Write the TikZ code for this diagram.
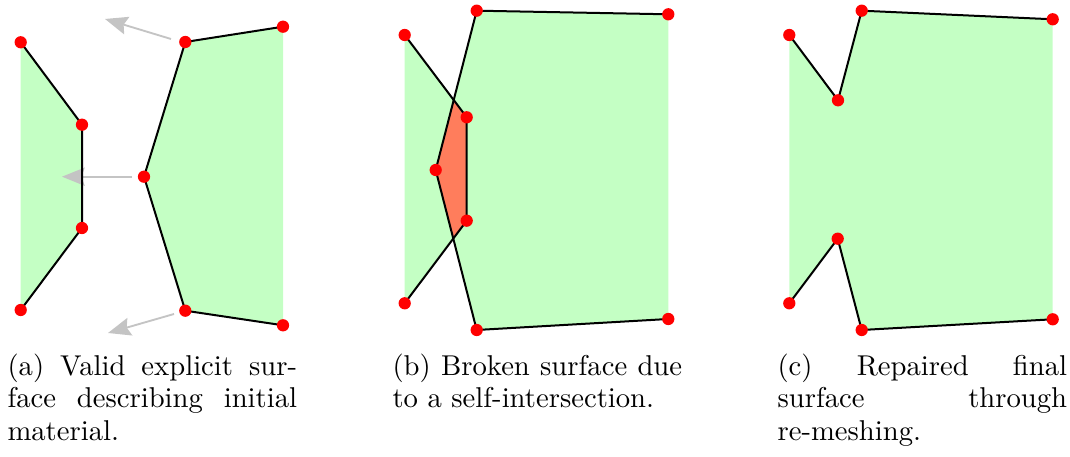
\documentclass[tikz,border=0pt]{standalone}
\usetikzlibrary{arrows.meta}
\definecolor{matgreen}{RGB}{196,255,196}
\definecolor{badred}{RGB}{255,125,92}
\definecolor{movegray}{RGB}{196,196,196}
\tikzset{
  surf/.style={draw=black, line width=0.75pt, line join=round},
  vert/.style={circle, fill=red, inner sep=0pt, minimum size=4.6pt},
  move/.style={draw=movegray, line width=0.7pt, -{Stealth[length=8.5pt, width=6.8pt, inset=1.2pt]}},
  capt/.style={anchor=north west, inner sep=0pt, text width=108.6pt, align=justify, font=\fontsize{10.75}{12.2}\selectfont}
}
\begin{document}
\begin{tikzpicture}[x=0.375pt, y=-0.375pt]
\useasboundingbox (0,0) rectangle (1070,457);
% ---------- panel (a)
\coordinate (a1) at (20.7,42.3);
\coordinate (a2) at (82,124.7);
\coordinate (a3) at (82,228);
\coordinate (a4) at (20.7,310);
\coordinate (a5) at (185.3,42);
\coordinate (a6) at (283,26.7);
\coordinate (a7) at (144,176.7);
\coordinate (a8) at (185.3,310.7);
\coordinate (a9) at (283,325.3);
\fill[matgreen] (a1) -- (a2) -- (a3) -- (a4) -- cycle;
\fill[matgreen] (a5) -- (a6) -- (a9) -- (a8) -- (a7) -- cycle;
\coordinate (m1s) at (171,39);
\coordinate (m1e) at (105,19);
\coordinate (m2s) at (132,176.7);
\coordinate (m2e) at (62,176.7);
\coordinate (m3s) at (174,314);
\coordinate (m3e) at (108,333);
\draw[move] (m1s) -- (m1e);
\draw[move] (m2s) -- (m2e);
\draw[move] (m3s) -- (m3e);
\draw[surf] (a1) -- (a2) -- (a3) -- (a4);
\draw[surf] (a6) -- (a5) -- (a7) -- (a8) -- (a9);
\foreach \p in {a1,a2,a3,a4,a5,a6,a7,a8,a9} \node[vert] (d\p) at (\p) {};
% ---------- panel (b)
\coordinate (b1) at (404.7,35);
\coordinate (b2) at (466.7,117.3);
\coordinate (b3) at (466.7,220.7);
\coordinate (b4) at (404.7,303.3);
\coordinate (b5) at (476.7,10.7);
\coordinate (b6) at (668.3,14.3);
\coordinate (b7) at (435.7,170);
\coordinate (b8) at (476.7,330);
\coordinate (b9) at (668.3,319);
\fill[matgreen] (b1) -- (b2) -- (b3) -- (b4) -- cycle;
\fill[matgreen] (b5) -- (b6) -- (b9) -- (b8) -- (b7) -- cycle;
\begin{scope}
  \clip (b1) -- (b2) -- (b3) -- (b4) -- cycle;
  \fill[badred] (b5) -- (b6) -- (b9) -- (b8) -- (b7) -- cycle;
\end{scope}
\draw[surf] (b1) -- (b2) -- (b3) -- (b4);
\draw[surf] (b6) -- (b5) -- (b7) -- (b8) -- (b9);
\foreach \p in {b1,b2,b3,b4,b5,b6,b7,b8,b9} \node[vert] (d\p) at (\p) {};
% ---------- panel (c)
\coordinate (c1) at (789.3,35);
\coordinate (c2) at (838,100.3);
\coordinate (c3) at (861.7,10.7);
\coordinate (c4) at (1052.7,19.3);
\coordinate (c5) at (1052.7,319.3);
\coordinate (c6) at (861.7,330);
\coordinate (c7) at (837.7,238.7);
\coordinate (c8) at (789.3,303.3);
\fill[matgreen] (c1) -- (c2) -- (c3) -- (c4) -- (c5) -- (c6) -- (c7) -- (c8) -- cycle;
\draw[surf] (c1) -- (c2) -- (c3) -- (c4);
\draw[surf] (c5) -- (c6) -- (c7) -- (c8);
\foreach \p in {c1,c2,c3,c4,c5,c6,c7,c8} \node[vert] (d\p) at (\p) {};
% ---------- captions
\node[capt] (capa) at (7,353) {(a) Valid explicit sur-\linebreak face describing initial\linebreak material.};
\node[capt] (capb) at (392,353) {(b) Broken surface due\linebreak to a self-intersection.};
\node[capt] (capc) at (777,353) {(c) Repaired final\linebreak surface through\linebreak re-meshing.};
\end{tikzpicture}
\end{document}
